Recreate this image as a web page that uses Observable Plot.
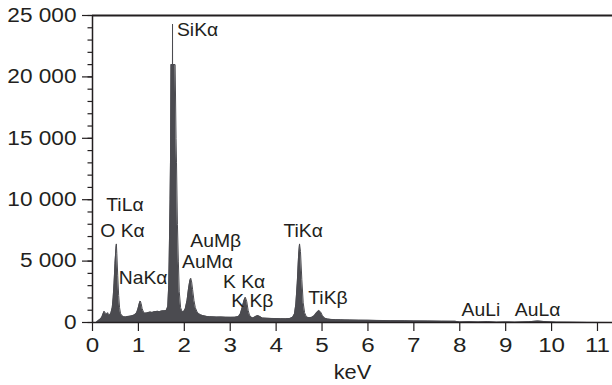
<!DOCTYPE html>
<html>
<head>
<meta charset="utf-8">
<script src="https://cdn.jsdelivr.net/npm/d3@7"></script>
<script src="https://cdn.jsdelivr.net/npm/@observablehq/plot@0.6"></script>
<style>
  html, body { margin: 0; padding: 0; background: #fff; }
  svg { display: block; }
</style>
</head>
<body>
<script>
// Spectrum: energy (keV) and counts
const energy = [0.08,0.12,0.16,0.20,0.23,0.25,0.27,0.29,0.31,0.33,0.35,0.37,0.40,0.43,0.45,0.47,0.49,0.51,0.52,0.53,0.55,0.57,0.59,0.61,0.64,0.68,0.72,0.76,0.80,0.84,0.88,0.92,0.96,0.99,1.02,1.04,1.06,1.08,1.11,1.14,1.18,1.22,1.26,1.30,1.34,1.38,1.42,1.46,1.50,1.54,1.58,1.61,1.64,1.66,1.67,1.69,1.70,1.71,1.742,1.743,1.744,1.80,1.82,1.83,1.85,1.87,1.89,1.92,1.95,1.98,2.02,2.06,2.09,2.12,2.14,2.16,2.18,2.21,2.24,2.28,2.32,2.36,2.40,2.45,2.50,2.55,2.60,2.70,2.80,2.90,3.00,3.10,3.18,3.22,3.26,3.30,3.33,3.36,3.39,3.42,3.46,3.50,3.55,3.60,3.65,3.70,3.80,3.90,4.00,4.10,4.20,4.30,4.36,4.40,4.43,4.46,4.49,4.51,4.53,4.56,4.59,4.62,4.66,4.72,4.78,4.83,4.88,4.93,4.97,5.01,5.06,5.12,5.20,5.30,5.40,5.50,5.60,5.80,6.00,6.20,6.50,6.80,7.00,7.30,7.60,7.90,8.00,8.20,8.40,8.60,8.80,9.00,9.20,9.50,9.70,9.90,10.10,10.40,10.80,11.33];
const counts = [0,150,250,400,700,900,850,600,700,800,650,600,750,1200,2000,3200,4800,6000,6400,5600,3800,2200,1200,750,550,470,450,480,500,530,560,640,780,1100,1550,1750,1550,1150,850,760,780,820,850,820,870,890,910,880,930,950,960,1000,1300,3000,5000,10000,13500,21000,21000,24300,21000,21000,15000,13000,8000,5000,2500,1200,900,850,1100,1800,2700,3400,3600,3300,2700,1800,1200,850,700,620,560,520,480,470,460,440,450,430,420,430,480,700,1200,1800,2050,1700,1000,600,420,360,480,560,480,360,340,330,320,310,300,320,420,700,1500,3200,5500,6400,5800,3500,1600,800,450,380,420,550,800,980,850,550,350,280,250,230,220,210,200,190,180,170,150,140,130,120,110,100,40,60,40,70,30,40,30,60,120,60,30,20,10,0];

// Peak labels with their anchor positions (keV, counts)
const peakNames = ["SiKα","TiLα","O Kα","NaKα","AuMβ","AuMα","K Kα","K Kβ","TiKα","TiKβ","AuLi","AuLα"];
const peakKeV   = [1.84, 0.30, 0.17, 0.57, 2.13, 1.95, 2.84, 3.02, 4.16, 4.70, 8.04, 9.20];
const peakCount = [23290, 9040, 6950, 3150, 6140, 4450, 2810, 1250, 6950, 1520, 490, 490];

// Axes
const xTicks = [0,1,2,3,4,5,6,7,8,9,10,11];
const yMajorTicks = [0,5000,10000,15000,20000,25000];
const yTickLabels = ["0","5 000","10 000","15 000","20 000","25 000"];
const yMinorTicks = d3.range(0, 25001, 1000);
const xLabel = "keV";

const spectrum = energy.map((e, i) => ({e, c: counts[i]}));
const peaks = peakNames.map((t, i) => ({t, x: peakKeV[i], y: peakCount[i]}));

const ink = "#231f20";
const fillCol = "#4b4b50";

const chart = Plot.plot({
  width: 612,
  height: 385,
  marginLeft: 92,
  marginRight: 0,
  marginTop: 15,
  marginBottom: 63,
  style: {fontFamily: "'Liberation Sans', Arial, sans-serif", color: ink, background: "#fff", overflow: "visible"},
  x: {domain: [0, 11.327]},
  y: {domain: [0, 25000]},
  marks: [
    Plot.areaY(spectrum, {x: "e", y: "c", fill: fillCol}),
    Plot.lineY(spectrum, {x: "e", y: "c", stroke: fillCol, strokeWidth: 1}),
    Plot.axisY({ticks: yMinorTicks, tickSize: 4.5, tickFormat: () => "", label: null, strokeWidth: 1.2}),
    Plot.axisY({ticks: yMajorTicks, tickSize: 10, tickPadding: 6, fontSize: 19.5,
      tickFormat: d => yTickLabels[yMajorTicks.indexOf(d)], label: null, strokeWidth: 1.2}),
    Plot.axisX({ticks: xTicks, tickSize: 9, tickPadding: 7, fontSize: 19.5, tickFormat: d => String(d),
      label: xLabel, labelAnchor: "center", labelArrow: "none", labelOffset: 56, strokeWidth: 1.2}),
    Plot.ruleY([0], {stroke: ink, strokeWidth: 1.5}),
    Plot.ruleX([0], {stroke: ink, strokeWidth: 1.5}),
    Plot.ruleY([25000], {stroke: ink, strokeWidth: 2}),
    Plot.text(peaks, {x: "x", y: "y", text: "t", textAnchor: "start", lineAnchor: "bottom", fontSize: 18.6, fill: ink})
  ]
});

document.body.append(chart);

function stretch(sel, k) {
  chart.querySelectorAll(sel).forEach(t => {
    const len = t.getComputedTextLength();
    if (len > 0) {
      t.setAttribute("textLength", (len * k).toFixed(2));
      t.setAttribute("lengthAdjust", "spacingAndGlyphs");
    }
  });
}
stretch('g[aria-label="y-axis tick label"] text', 1.16);
stretch('g[aria-label="x-axis tick label"] text', 1.24);
stretch('g[aria-label="x-axis label"] text', 1.12);
stretch('g[aria-label="text"] text', 1.04);
</script>
</body>
</html>
